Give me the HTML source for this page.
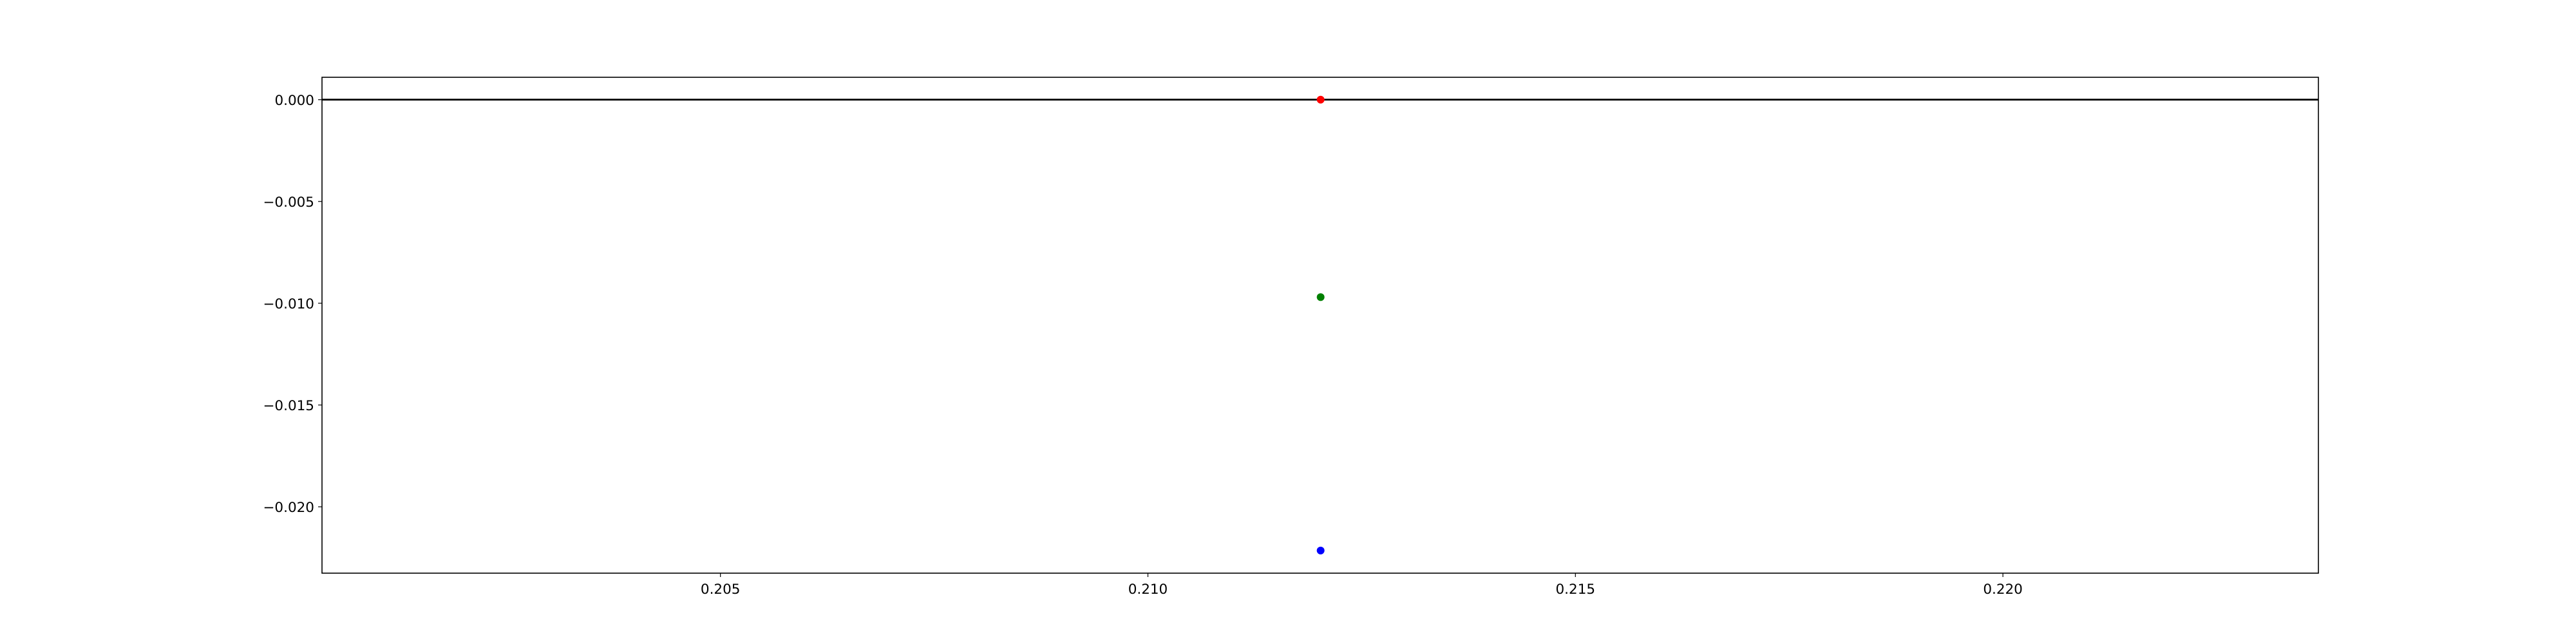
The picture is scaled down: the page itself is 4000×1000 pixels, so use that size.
<!DOCTYPE html>
<html><head><meta charset="utf-8"><style>
html,body{margin:0;padding:0;background:#fff;}
svg{display:block;font-family:"DejaVu Sans","Liberation Sans",sans-serif;}
</style></head><body>
<svg id="chart" width="4000" height="1000" viewBox="0 0 4000 1000" xmlns="http://www.w3.org/2000/svg">
<rect x="0" y="0" width="4000" height="1000" fill="#fff"/>
<g id="plot"></g>
</svg>
<script>
const xTicks = [0.205, 0.210, 0.215, 0.220];
const xTickLabels = ["0.205", "0.210", "0.215", "0.220"];
const yTicks = [0.000, -0.005, -0.010, -0.015, -0.020];
const yTickLabels = ["0.000", "\u22120.005", "\u22120.010", "\u22120.015", "\u22120.020"];
const pointX = [0.21202, 0.21202, 0.21202];
const pointY = [0.0, -0.0097, -0.02215];
const pointColors = ["red", "green", "blue"];
const pointNames = ["point-red", "point-green", "point-blue"];
const hLineY = 0;

const L = 500, R = 3600, T = 120, B = 890;
const xMin = 0.20034, xMax = 0.22369, yMin = -0.02326, yMax = 0.0011;
function sx(v){ return L + (v - xMin) / (xMax - xMin) * (R - L); }
function sy(v){ return B - (v - yMin) / (yMax - yMin) * (B - T); }

const NS = "http://www.w3.org/2000/svg";
const g = document.getElementById('plot');
function mk(tag, attrs){ const e = document.createElementNS(NS, tag); for (const k in attrs) e.setAttribute(k, attrs[k]); g.appendChild(e); return e; }

const hl = mk('line', {x1: L, x2: R, y1: sy(hLineY), y2: sy(hLineY), stroke: '#000', 'stroke-width': 2.8});



pointX.forEach((x, i) => {
  const c = mk('circle', {cx: sx(x), cy: sy(pointY[i]), r: 6, fill: pointColors[i]});
  
  
});

const fr = mk('rect', {x: L, y: T, width: R - L, height: B - T, fill: 'none', stroke: '#000', 'stroke-width': 1.6});



xTicks.forEach((v, i) => {
  const x = sx(v);
  const t = mk('line', {x1: x, x2: x, y1: B, y2: B + 6, stroke: '#000', 'stroke-width': 1.2});
  
  
  const tx = mk('text', {x: x, y: B + 32, 'text-anchor': 'middle', 'font-size': 21.5, fill: '#000'});
  tx.textContent = xTickLabels[i];
  
  
});

yTicks.forEach((v, i) => {
  const y = sy(v);
  const t = mk('line', {x1: L - 6, x2: L, y1: y, y2: y, stroke: '#000', 'stroke-width': 1.2});
  
  
  const tx = mk('text', {x: L - 12, y: y + 8, 'text-anchor': 'end', 'font-size': 21.5, fill: '#000'});
  tx.textContent = yTickLabels[i];
  
  
});
</script>
</body></html>
